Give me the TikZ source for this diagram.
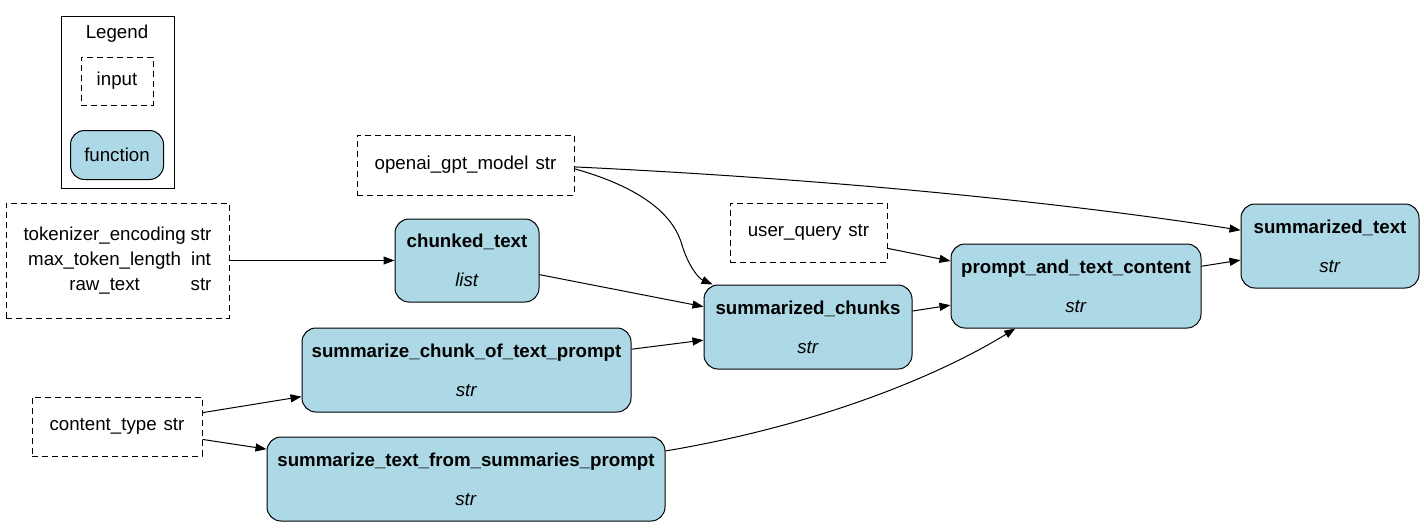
\documentclass[tikz,border=0pt]{standalone}
\usepackage{fontspec}
\setmainfont{Liberation Sans}
\usetikzlibrary{arrows.meta}
\definecolor{fnblue}{HTML}{ADD8E6}

\tikzset{
  inbox/.style={draw,dash pattern=on 6pt off 4pt,line width=1pt,inner sep=0pt},
  fnbox/.style={draw,fill=fnblue,rounded corners=14pt,line width=1pt,inner sep=0pt,align=center},
  edge/.style={-{Triangle[length=11pt,width=8pt]},line width=1pt},
}

\begin{document}
\begin{tikzpicture}[x=1pt,y=-1pt,font=\fontsize{18.7}{22}\selectfont]
  \useasboundingbox (0,0) rectangle (1424,528);

  % legend
  \draw[line width=1pt] (61,16) rectangle (174,188);
  \node (legend) at (117,34) {Legend};
  \node[inbox,minimum width=72pt,minimum height=48pt] (leginput) at (117,81) {input};
  \node[fnbox,minimum width=93pt,minimum height=49pt] (legfn) at (117,155) {function};

  % inputs
  \node[inbox,minimum width=223pt,minimum height=115pt] (tokenizer) at (117.5,260.5)
    {\renewcommand{\arraystretch}{1.14}\begin{tabular}{@{}c@{\hspace{5pt}}c@{}}
      tokenizer\_encoding & str\\ max\_token\_length & int\\ raw\_text & str
    \end{tabular}};
  \node[inbox,minimum width=217pt,minimum height=60pt] (openai) at (465.5,165) {openai\_gpt\_model\hspace{7pt}str};
  \node[inbox,minimum width=157pt,minimum height=59pt] (userquery) at (808.5,232.5) {user\_query\hspace{7pt}str};
  \node[inbox,minimum width=170pt,minimum height=59pt] (contenttype) at (117,426.5) {content\_type\hspace{7pt}str};

  % functions
  \node[fnbox,minimum width=144pt,minimum height=83pt] (chunked) at (467,260.5) {\textbf{chunked\_text}\\[17pt]\textit{list}};
  \node[fnbox,minimum width=329pt,minimum height=84pt] (chunkprompt) at (466.5,370) {\textbf{summarize\_chunk\_of\_text\_prompt}\\[17pt]\textit{str}};
  \node[fnbox,minimum width=398pt,minimum height=84pt] (sumprompt) at (466,479) {\textbf{summarize\_text\_from\_summaries\_prompt}\\[17pt]\textit{str}};
  \node[fnbox,minimum width=208pt,minimum height=84pt] (sumchunks) at (808,327) {\textbf{summarized\_chunks}\\[17pt]\textit{str}};
  \node[fnbox,minimum width=250pt,minimum height=84pt] (prompt) at (1076,286) {\textbf{prompt\_and\_text\_content}\\[17pt]\textit{str}};
  \node[fnbox,minimum width=178pt,minimum height=84pt] (sumtext) at (1330,246) {\textbf{summarized\_text}\\[17pt]\textit{str}};

  % edges
  \draw[edge] (tokenizer) -- (chunked);
  \draw[edge] (chunked) -- (sumchunks);
  \draw[edge] (chunkprompt) -- (sumchunks);
  \draw[edge] (contenttype) -- (chunkprompt);
  \draw[edge] (contenttype) -- (sumprompt);
  \draw[edge] (userquery) -- (prompt);
  \draw[edge] (sumchunks) -- (prompt);
  \draw[edge] (prompt) -- (sumtext);
  \draw[edge] (openai.-2) .. controls (650,190) and (675,220) .. (682,245) .. controls (688,265) and (698,278) .. (sumchunks.156);
  \draw[edge] (openai.-1) .. controls (850,180) and (1080,205) .. (sumtext.170);
  \draw[edge] (sumprompt.8) .. controls (820,425) and (940,375) .. (prompt.-145);
\end{tikzpicture}
\end{document}
